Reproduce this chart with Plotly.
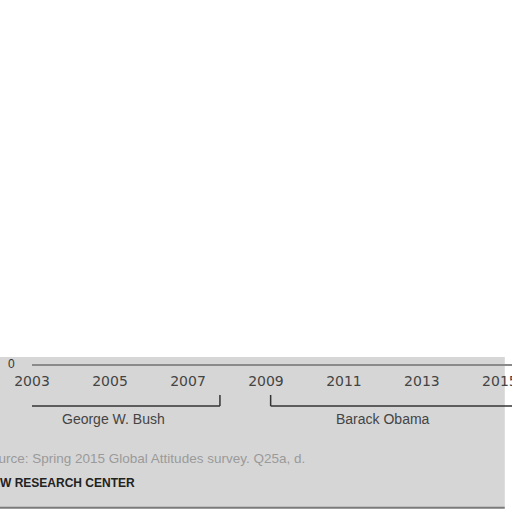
import plotly.graph_objects as go

# ---- data ----
years = [2003, 2005, 2007, 2009, 2011, 2013, 2015]
year_labels = ["2003", "2005", "2007", "2009", "2011", "2013", "2015"]
y_ticks = [0]
y_tick_labels = ["0"]
presidents = ["George W. Bush", "Barack Obama"]
term_start = [2002.95, 2009.12]
term_end = [2007.82, 2015.6]
label_x = [2005.1, 2012.0]
source_text = "Source: Spring 2015 Global Attitudes survey. Q25a, d."
credit_text = "PEW RESEARCH CENTER"

fig = go.Figure()
# invisible trace to anchor axes
fig.add_trace(go.Scatter(x=years, y=[None] * len(years), mode="lines",
                         showlegend=False, hoverinfo="skip"))

shapes = []
# grey background panel (bottom area)
shapes.append(dict(type="rect", xref="paper", yref="paper",
                   x0=-0.0667, x1=0.985, y0=0.02, y1=-0.416,
                   fillcolor="#d6d6d6", line=dict(width=0), layer="below"))
shapes.append(dict(type="line", xref="paper", yref="paper",
                   x0=-0.0667, x1=0.985, y0=-0.418, y1=-0.418,
                   line=dict(color="#7a7a7a", width=2)))

annotations = []
for name, s, e, lx in zip(presidents, term_start, term_end, label_x):
    shapes.append(dict(type="line", xref="x", yref="paper", x0=s, x1=s,
                       y0=-0.090, y1=-0.122, line=dict(color="#333", width=1.5)))
    if e < 2015.3:
        shapes.append(dict(type="line", xref="x", yref="paper", x0=e, x1=e,
                           y0=-0.090, y1=-0.122, line=dict(color="#333", width=1.5)))
    shapes.append(dict(type="line", xref="x", yref="paper", x0=s, x1=min(e, 2015.31),
                       y0=-0.122, y1=-0.122, line=dict(color="#333", width=1.5)))
    annotations.append(dict(x=lx, xref="x", yref="paper", y=-0.16,
                            yanchor="middle", xanchor="center", text=name,
                            showarrow=False, font=dict(size=14, color="#444")))

annotations.append(dict(x=0.573, y=-0.276, xref="paper", yref="paper",
                        xanchor="right", yanchor="middle", text=source_text,
                        showarrow=False, font=dict(size=13.5, color="#9a9a9a")))
annotations.append(dict(x=0.219, y=-0.346, xref="paper", yref="paper",
                        xanchor="right", yanchor="middle",
                        text="<b>" + credit_text + "</b>",
                        showarrow=False, font=dict(size=12, color="#222")))

fig.update_layout(
    width=512, height=512,
    margin=dict(l=32, r=0, t=20, b=148, autoexpand=False),
    paper_bgcolor="white", plot_bgcolor="rgba(0,0,0,0)",
    font=dict(family="Liberation Sans, Arial, sans-serif"),
    showlegend=False,
    shapes=shapes, annotations=annotations,
    xaxis=dict(range=[2003, 2015.31], tickvals=years, ticktext=year_labels,
               showgrid=False, zeroline=False, showline=True,
               linecolor="#8a8a8a", linewidth=2, automargin=False,
               ticks="outside", ticklen=3, tickcolor="rgba(0,0,0,0)",
               ticklabeloverflow="allow",
               tickfont=dict(family="DejaVu Sans", size=14, color="#444"),
               fixedrange=True),
    yaxis=dict(range=[0, 100], tickvals=y_ticks, ticktext=y_tick_labels,
               showgrid=False, zeroline=False, showline=False, automargin=False,
               ticks="outside", ticklen=14, tickcolor="rgba(0,0,0,0)",
               tickfont=dict(size=12, color="#333"), fixedrange=True),
)

fig.write_html("out.html", config={"displayModeBar": False},
               post_script="document.body.style.margin='0';")
